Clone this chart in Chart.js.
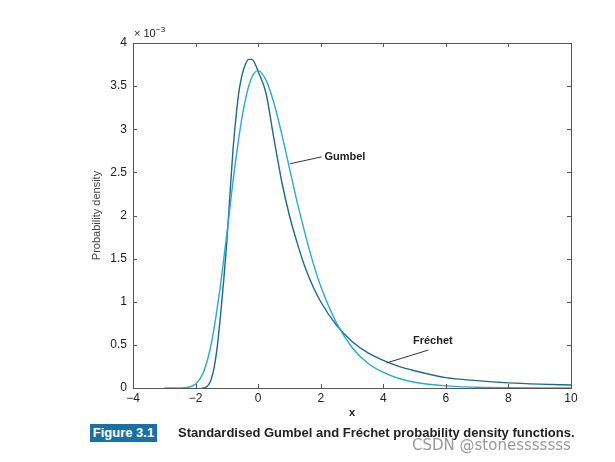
<!DOCTYPE html>
<html>
<head>
<meta charset="utf-8">
<script src="https://cdn.jsdelivr.net/npm/chart.js@4/dist/chart.umd.min.js"></script>
<style>
  body { margin: 0; background: #fff; }
  #wrap { position: relative; width: 615px; height: 462px; }
  #c { position: absolute; left: 0; top: 0; }
  .fig { position: absolute; left: 90px; top: 424px; width: 67px; height: 18px; background: #1b6fa3;
         color: #fff; font: bold 13px "Liberation Sans", Arial, sans-serif; line-height: 18px; text-align: center; }
  .cap { position: absolute; left: 178px; top: 424px; color: #222; font: bold 13px "Liberation Sans", Arial, sans-serif;
         line-height: 18px; white-space: nowrap; }
  .wm { position: absolute; left: 412px; top: 436px; color: #999; font: 15px "DejaVu Sans", sans-serif; white-space: nowrap; }
</style>
</head>
<body>
<div id="wrap">
  <canvas id="c" width="615" height="462"></canvas>
  <div class="fig">Figure 3.1</div>
  <div class="cap">Standardised Gumbel and Fréchet probability density functions.</div>
  <div class="wm">CSDN @stonesssssss</div>
</div>
<script>
// densities in units of 10^-3
var gumbelX = [-3, -2.75, -2.5, -2.25, -2, -1.75, -1.5, -1.25, -1, -0.75, -0.5, -0.25, 0, 0.25, 0.5, 0.75, 1, 1.25, 1.5, 1.75, 2, 2.5, 3, 3.5, 4, 4.5, 5, 6, 7, 8, 9, 10];
var gumbelY = [0, 0, 0.001, 0.007, 0.046, 0.18, 0.51, 1.07, 1.79, 2.55, 3.17, 3.56, 3.68, 3.57, 3.31, 2.95, 2.55, 2.15, 1.79, 1.46, 1.18, 0.76, 0.47, 0.29, 0.18, 0.11, 0.067, 0.025, 0.009, 0.003, 0.001, 0.0005];
var frechetX = [-1.8, -1.7, -1.6, -1.5, -1.4, -1.3, -1.2, -1.1, -1, -0.9, -0.8, -0.7, -0.6, -0.5, -0.4, -0.3, -0.2, -0.1, 0, 0.25, 0.5, 0.75, 1, 1.25, 1.5, 1.75, 2, 2.5, 3, 3.5, 4, 4.5, 5, 6, 7, 8, 9, 10];
var frechetY = [0, 0.005, 0.03, 0.1, 0.25, 0.5, 0.85, 1.25, 1.7, 2.25, 2.78, 3.17, 3.47, 3.65, 3.76, 3.81, 3.81, 3.76, 3.67, 3.42, 2.9, 2.4, 2.0, 1.68, 1.4, 1.18, 1.0, 0.73, 0.54, 0.41, 0.32, 0.25, 0.2, 0.12, 0.085, 0.06, 0.045, 0.035];
var xTicks = [-4, -2, 0, 2, 4, 6, 8, 10];
var yTicks = [0, 0.5, 1, 1.5, 2, 2.5, 3, 3.5, 4];
// annotation labels: text, line start, line end, text anchor (data units)
var notes = [
  { text: "Gumbel", from: [1.02, 2.6], to: [2.03, 2.68], at: [2.12, 2.68] },
  { text: "Fréchet", from: [4.1, 0.29], to: [5.44, 0.44], at: [4.95, 0.545] }
];

function pts(xs, ys) {
  return xs.map(function (x, i) { return { x: x, y: ys[i] }; });
}

var frame = {
  id: "frame",
  afterDraw: function (chart) {
    var ctx = chart.ctx, a = chart.chartArea, sx = chart.scales.x, sy = chart.scales.y;
    ctx.save();
    ctx.strokeStyle = "#555";
    ctx.lineWidth = 1;
    ctx.strokeRect(Math.round(a.left) + 0.5, Math.round(a.top) + 0.5, Math.round(a.right - a.left), Math.round(a.bottom - a.top));
    ctx.beginPath();
    xTicks.forEach(function (v) {
      var p = Math.round(sx.getPixelForValue(v)) + 0.5;
      ctx.moveTo(p, a.bottom); ctx.lineTo(p, a.bottom - 4);
      ctx.moveTo(p, a.top); ctx.lineTo(p, a.top + 4);
    });
    yTicks.forEach(function (v) {
      var p = Math.round(sy.getPixelForValue(v)) + 0.5;
      ctx.moveTo(a.left, p); ctx.lineTo(a.left + 4, p);
      ctx.moveTo(a.right, p); ctx.lineTo(a.right - 4, p);
    });
    ctx.stroke();

    ctx.fillStyle = "#222";
    ctx.font = "11px 'Liberation Sans', Arial, sans-serif";
    ctx.textBaseline = "alphabetic";
    ctx.fillText("\u00d7 10", a.left + 1, a.top - 6);
    ctx.font = "8px 'Liberation Sans', Arial, sans-serif";
    ctx.fillText("\u22123", a.left + 23, a.top - 11);

    ctx.save();
    ctx.translate(97, (a.top + a.bottom) / 2);
    ctx.rotate(-Math.PI / 2);
    ctx.textAlign = "center";
    ctx.textBaseline = "middle";
    ctx.fillStyle = "#444";
    ctx.font = "11px 'Liberation Sans', Arial, sans-serif";
    ctx.fillText("Probability density", 0, 0);
    ctx.restore();

    ctx.textAlign = "center";
    ctx.textBaseline = "middle";
    ctx.font = "bold 11px 'Liberation Sans', Arial, sans-serif";
    ctx.fillStyle = "#222";
    ctx.fillText("x", (a.left + a.right) / 2, 413);

    ctx.strokeStyle = "#333";
    ctx.lineWidth = 1;
    notes.forEach(function (n) {
      ctx.beginPath();
      ctx.moveTo(sx.getPixelForValue(n.from[0]), sy.getPixelForValue(n.from[1]));
      ctx.lineTo(sx.getPixelForValue(n.to[0]), sy.getPixelForValue(n.to[1]));
      ctx.stroke();
      ctx.textAlign = "left";
      ctx.fillText(n.text, sx.getPixelForValue(n.at[0]), sy.getPixelForValue(n.at[1]));
    });
    ctx.restore();
  }
};

new Chart("c", {
  type: "line",
  data: {
    datasets: [
      {
        label: "Gumbel",
        data: pts(gumbelX, gumbelY),
        borderColor: "#2aaad0",
        borderWidth: 1.4,
        pointRadius: 0,
        cubicInterpolationMode: "monotone",
      },
      {
        label: "Fréchet",
        data: pts(frechetX, frechetY),
        borderColor: "#1d6a8c",
        borderWidth: 1.4,
        pointRadius: 0,
        cubicInterpolationMode: "monotone",
      },
    ],
  },
  options: {
    responsive: false,
    animation: false,
    layout: { padding: { left: 0, top: 43, right: 44, bottom: 0 } },
    plugins: { legend: { display: false }, tooltip: { enabled: false } },
    scales: {
      x: {
        type: "linear",
        min: -4,
        max: 10,
        afterBuildTicks: function (s) { s.ticks = xTicks.map(function (v) { return { value: v }; }); },
        afterFit: function (s) { s.height = 74; },
        grid: { display: false, drawTicks: false, tickLength: 0 },
        border: { display: false },
        ticks: {
          color: "#222",
          padding: 3,
          maxRotation: 0,
          font: { family: "'Liberation Sans', Arial, sans-serif", size: 12 },
          callback: function (v) { return String(v).replace("-", "\u2212"); },
        },
      },
      y: {
        min: 0,
        max: 4,
        afterBuildTicks: function (s) { s.ticks = yTicks.map(function (v) { return { value: v }; }); },
        afterFit: function (s) { s.width = 133; },
        grid: { display: false, drawTicks: false, tickLength: 0 },
        border: { display: false },
        ticks: {
          color: "#222",
          padding: 6,
          font: { family: "'Liberation Sans', Arial, sans-serif", size: 12 },
          callback: function (v) { return String(v); },
        },
      },
    },
  },
  plugins: [frame],
});
</script>
</body>
</html>
